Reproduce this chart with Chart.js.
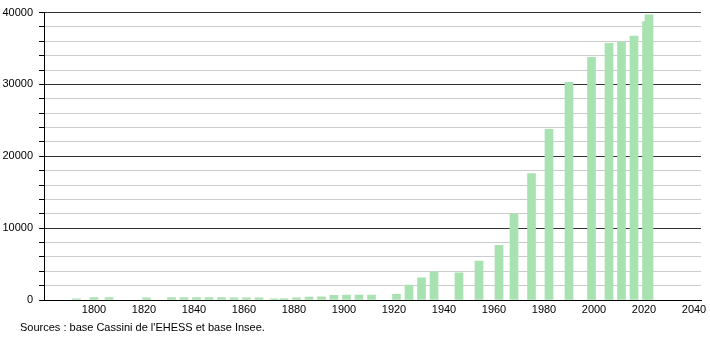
<!DOCTYPE html>
<html>
<head>
<meta charset="utf-8">
<script src="https://cdn.jsdelivr.net/npm/chart.js@4/dist/chart.umd.min.js"></script>
<style>
  html, body { margin: 0; padding: 0; background: #fff; }
  #wrap { position: relative; width: 710px; height: 340px; }
  #src { position: absolute; left: 20px; top: 321px; font: 11px "Liberation Sans", Arial, sans-serif; color: #000; white-space: nowrap; }
</style>
</head>
<body>
<div id="wrap">
  <canvas id="c" width="710" height="340"></canvas>
  <div id="src">Sources : base Cassini de l'EHESS et base Insee.</div>
</div>
<script>
const years = [1793,1800,1806,1821,1831,1836,1841,1846,1851,1856,1861,1866,1872,1876,1881,1886,1891,1896,1901,1906,1911,1921,1926,1931,1936,1946,1954,1962,1968,1975,1982,1990,1999,2006,2011,2016,2021,2022];
const population = [150,320,330,300,330,340,330,340,330,300,300,290,170,200,300,420,450,650,680,690,700,800,2080,3090,3920,3780,5400,7610,12000,17580,23770,30310,33770,35710,35890,36720,38750,39680];
const xTickLabels = [1800,1820,1840,1860,1880,1900,1920,1940,1960,1980,2000,2020,2040];
const yTickLabels = [0,10000,20000,30000,40000];

const points = years.map((y, i) => ({ x: y, y: population[i] }));
const FONT = { family: '"Liberation Sans", Arial, sans-serif', size: 11 };

new Chart(document.getElementById('c'), {
  type: 'bar',
  data: {
    datasets: [{
      data: points,
      backgroundColor: '#a9e2b1',
      borderWidth: 0,
      barThickness: 8
    }]
  },
  options: {
    responsive: false,
    animation: false,
    events: [],
    layout: { padding: { top: 11, right: 9, left: 0, bottom: 0 } },
    plugins: { legend: { display: false }, tooltip: { enabled: false } },
    scales: {
      x: {
        type: 'linear',
        offset: false,
        min: 1780,
        max: 2042.8,
        afterBuildTicks: s => { s.ticks = xTickLabels.map(v => ({ value: v })); },
        afterFit: s => { s.height = 40; },
        grid: { display: false, drawTicks: false, offset: false },
        border: { display: true, color: '#000', width: 1 },
        ticks: { color: '#000', font: FONT, padding: 3, maxRotation: 0, autoSkip: false, callback: v => String(v) }
      },
      y: {
        min: 0,
        max: 40000,
        afterBuildTicks: s => {
          const t = [];
          for (let v = 0; v <= 40000; v += 2000) t.push({ value: v });
          s.ticks = t;
        },
        afterFit: s => { s.width = 44; },
        grid: {
          color: ctx => (ctx.tick && ctx.tick.value % 10000 === 0) ? '#333' : '#cccccc',
          tickColor: '#000',
          tickLength: 5,
          drawTicks: true
        },
        border: { display: true, color: '#000', width: 1 },
        ticks: {
          color: '#000', font: FONT, padding: 6, autoSkip: false,
          callback: v => yTickLabels.includes(v) ? String(v) : ''
        }
      }
    }
  }
});
</script>
</body>
</html>
